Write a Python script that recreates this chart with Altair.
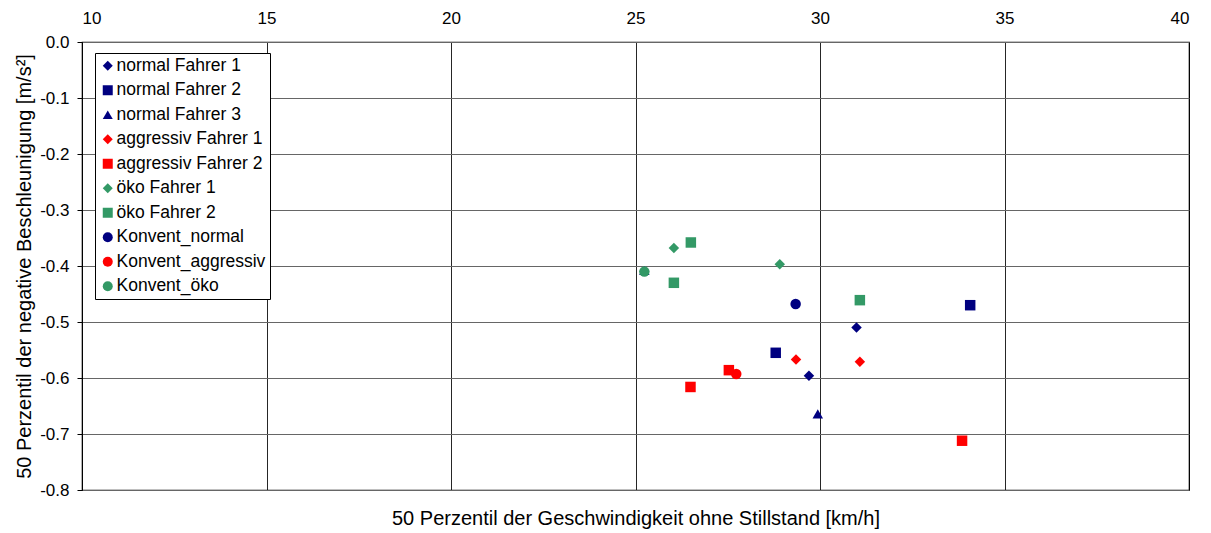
import altair as alt
import pandas as pd

# ---- data ----
series_names = [
    "normal Fahrer 1", "normal Fahrer 2", "normal Fahrer 3",
    "aggressiv Fahrer 1", "aggressiv Fahrer 2",
    "öko Fahrer 1", "öko Fahrer 2",
    "Konvent_normal", "Konvent_aggressiv", "Konvent_öko",
]
series_colors = ["#000080", "#000080", "#000080", "#FF0000", "#FF0000",
                 "#339966", "#339966", "#000080", "#FF0000", "#339966"]
series_shapes = ["diamond", "square", "triangle-up", "diamond", "square",
                 "diamond", "square", "circle", "circle", "circle"]

normal_f1_x = [30.99, 29.70]
normal_f1_y = [-0.510, -0.596]
normal_f2_x = [34.07, 28.80]
normal_f2_y = [-0.470, -0.555]
normal_f3_x = [29.94, 25.24]
normal_f3_y = [-0.664, -0.408]
aggr_f1_x = [29.35, 31.08]
aggr_f1_y = [-0.567, -0.571]
aggr_f2_x = [27.53, 26.49, 33.85]
aggr_f2_y = [-0.586, -0.616, -0.712]
oeko_f1_x = [26.04, 28.91]
oeko_f1_y = [-0.368, -0.397]
oeko_f2_x = [26.50, 26.04, 31.08]
oeko_f2_y = [-0.358, -0.430, -0.461]
konv_normal_x = [29.34]
konv_normal_y = [-0.468]
konv_aggr_x = [27.73]
konv_aggr_y = [-0.593]
konv_oeko_x = [25.24]
konv_oeko_y = [-0.410]

x_ticks = [10, 15, 20, 25, 30, 35, 40]
y_ticks = [0.0, -0.1, -0.2, -0.3, -0.4, -0.5, -0.6, -0.7, -0.8]

all_x = [normal_f1_x, normal_f2_x, normal_f3_x, aggr_f1_x, aggr_f2_x,
         oeko_f1_x, oeko_f2_x, konv_normal_x, konv_aggr_x, konv_oeko_x]
all_y = [normal_f1_y, normal_f2_y, normal_f3_y, aggr_f1_y, aggr_f2_y,
         oeko_f1_y, oeko_f2_y, konv_normal_y, konv_aggr_y, konv_oeko_y]

rows = []
for name, xs, ys in zip(series_names, all_x, all_y):
    for xv, yv in zip(xs, ys):
        rows.append({"series": name, "x": xv, "y": yv})
df = pd.DataFrame(rows)

FONT = "Liberation Sans"

x_scale = alt.Scale(domain=[10, 40], nice=False, zero=False)
y_scale = alt.Scale(domain=[-0.8, 0.0], nice=False, zero=False)

points = alt.Chart(df).mark_point(filled=True, opacity=1, size=110).encode(
    x=alt.X("x:Q", scale=x_scale,
            axis=alt.Axis(orient="top", title=None, values=x_ticks, ticks=False,
                          domain=False, labelPadding=15, grid=True,
                          gridColor="#000000", gridWidth=1, gridOpacity=0.85,
                          labelFont=FONT, labelFontSize=17, labelColor="#000000")),
    y=alt.Y("y:Q", scale=y_scale,
            axis=alt.Axis(title="50 Perzentil der negative Beschleunigung [m/s²]",
                          values=y_ticks, tickSize=5, tickColor="#000000",
                          domainColor="#000000", labelPadding=8,
                          labelExpr="datum.value == 0 ? '0.0' : '-' + format(abs(datum.value), '.1f')",
                          grid=True, gridColor="#666666", gridWidth=1,
                          labelFont=FONT, labelFontSize=17, labelColor="#000000",
                          titleFont=FONT, titleFontSize=20, titleFontWeight="normal",
                          titleColor="#000000", titlePadding=5)),
    color=alt.Color("series:N",
                    scale=alt.Scale(domain=series_names, range=series_colors),
                    legend=alt.Legend(title=None, orient="none", legendX=13, legendY=11,
                                      fillColor="#FFFFFF", strokeColor="#000000",
                                      padding=4, rowPadding=5.5, symbolSize=100,
                                      labelFont=FONT, labelFontSize=17.5,
                                      labelColor="#000000", labelOffset=0,
                                      labelLimit=300)),
    shape=alt.Shape("series:N",
                    scale=alt.Scale(domain=series_names, range=series_shapes),
                    legend=alt.Legend(title=None, orient="none", legendX=13, legendY=11)),
)

bottom_title = alt.Chart(df).mark_point(opacity=0).encode(
    x=alt.X("x:Q", scale=x_scale,
            axis=alt.Axis(orient="bottom",
                          title="50 Perzentil der Geschwindigkeit ohne Stillstand [km/h]",
                          labels=False, ticks=False, domain=False, grid=False,
                          titleFont=FONT, titleFontSize=20, titleFontWeight="normal",
                          titleColor="#000000", titlePadding=18)),
    y=alt.value(0),
)

chart = alt.layer(points, bottom_title).resolve_axis(x="independent").properties(
    width=1107, height=448,
    background="#FFFFFF",
    autosize=alt.AutoSizeParams(type="none"),
    padding={"left": 74, "top": 34, "right": 12, "bottom": 41},
).configure_view(stroke="#000000", strokeWidth=1.2)

chart.save("out.html", embed_options={"renderer": "svg", "actions": False})
